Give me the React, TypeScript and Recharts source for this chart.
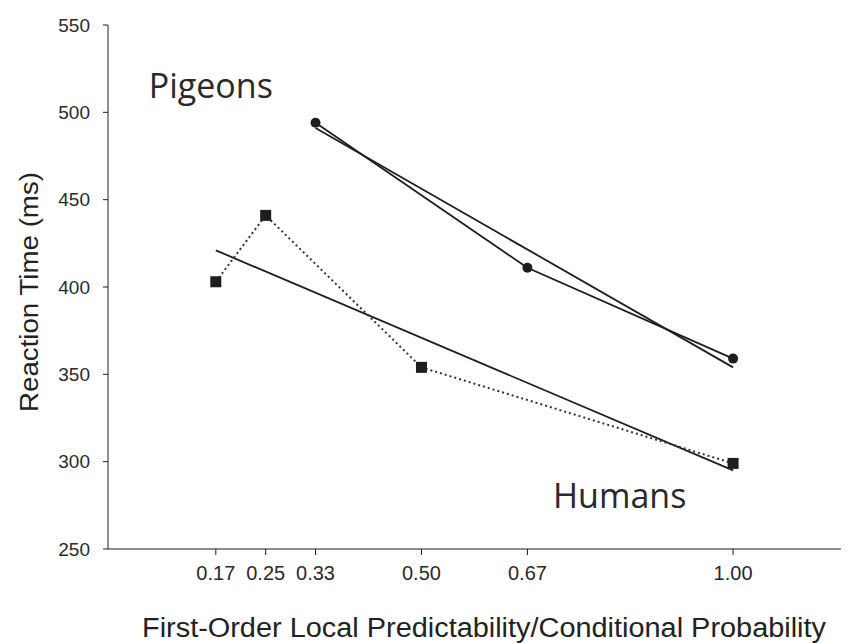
import React from 'react';
import { LineChart, Line, XAxis, YAxis, ReferenceDot } from 'recharts';

const xTicks = [0.17, 0.25, 0.33, 0.5, 0.67, 1.0];
const yTicks = [250, 300, 350, 400, 450, 500, 550];

const pigeonsX = [0.33, 0.67, 1.0];
const pigeonsRT = [494, 411, 359];
const pigeonsFitX = [0.33, 1.0];
const pigeonsFitRT = [491, 354];

const humansX = [0.17, 0.25, 0.5, 1.0];
const humansRT = [403, 441, 354, 299];
const humansFitX = [0.17, 1.0];
const humansFitRT = [421, 295];

const groupLabels = ['Pigeons', 'Humans'];
const groupLabelX = [0.162, 0.818];
const groupLabelY = [515.5, 281];

const xTitle = 'First-Order Local Predictability/Conditional Probability';
const yTitle = 'Reaction Time (ms)';

const toRows = (xs: number[], ys: number[]) => xs.map((x, i) => ({ x, rt: ys[i] }));

const pigeons = toRows(pigeonsX, pigeonsRT);
const pigeonsFit = toRows(pigeonsFitX, pigeonsFitRT);
const humans = toRows(humansX, humansRT);
const humansFit = toRows(humansFitX, humansFitRT);

const INK = '#1e1e1e';
const SANS = "'Liberation Sans', Arial, sans-serif";

const SquareDot = (p: any) => {
  if (p.cx == null || p.cy == null) return null;
  return <rect key={`sq-${p.index}`} x={p.cx - 5.5} y={p.cy - 5.5} width={11} height={11} fill={INK} />;
};

const CircleDot = (p: any) => {
  if (p.cx == null || p.cy == null) return null;
  return <circle key={`c-${p.index}`} cx={p.cx} cy={p.cy} r={5} fill={INK} />;
};

const groupLabel = (text: string) => (props: any) => {
  const vb = props.viewBox || {};
  const cx = vb.cx != null ? vb.cx : vb.x + (vb.width || 0) / 2;
  const cy = vb.cy != null ? vb.cy : vb.y + (vb.height || 0) / 2;
  return (
    <text x={cx} y={cy} textAnchor="middle" dominantBaseline="central" fontFamily="'Open Sans', sans-serif" fontSize={34} fill="#2a2a2a">
      {text}
    </text>
  );
};

export default function App() {
  return (
    <div style={{ fontFamily: SANS }}>
      <LineChart width={841} height={635} margin={{ top: 17, right: 0, bottom: 0, left: 0 }} style={{ fontFamily: SANS }}>
        <XAxis
          dataKey="x"
          type="number"
          domain={[-0.003, 1.186]}
          allowDataOverflow
          ticks={xTicks}
          tickFormatter={(v: number) => v.toFixed(2)}
          height={94}
          tickSize={6}
          tickMargin={11}
          stroke={INK}
          tick={{ fill: '#2a2a2a', fontSize: 20, fontFamily: SANS }}
          label={{
            content: () => (
              <text x={476} y={620} textAnchor="middle" dominantBaseline="central" fontFamily={SANS} fontSize={27} textLength={684} lengthAdjust="spacingAndGlyphs" fill="#222">
                {xTitle}
              </text>
            ),
          }}
        />
        <YAxis
          type="number"
          domain={[250, 550]}
          ticks={yTicks}
          width={100}
          tickSize={5}
          tickMargin={13}
          stroke={INK}
          tick={{ fill: '#2a2a2a', fontSize: 19, fontFamily: SANS }}
          label={{
            content: () => (
              <text x={21} y={284} textAnchor="middle" dominantBaseline="central" transform="rotate(-90 21 284)" fontFamily={SANS} fontSize={26} textLength={240} lengthAdjust="spacingAndGlyphs" fill="#222">
                {yTitle}
              </text>
            ),
          }}
        />
        <Line data={pigeonsFit} dataKey="rt" stroke={INK} strokeWidth={1.8} dot={false} isAnimationActive={false} />
        <Line data={pigeons} dataKey="rt" stroke={INK} strokeWidth={1.8} dot={CircleDot} isAnimationActive={false} />
        <Line data={humansFit} dataKey="rt" stroke={INK} strokeWidth={1.8} dot={false} isAnimationActive={false} />
        <Line data={humans} dataKey="rt" stroke="#333" strokeWidth={2} strokeDasharray="2 3" dot={SquareDot} isAnimationActive={false} />
        {groupLabels.map((t, i) => (
          <ReferenceDot key={t} x={groupLabelX[i]} y={groupLabelY[i]} r={0} stroke="none" fill="none" label={{ content: groupLabel(t) }} />
        ))}
      </LineChart>
    </div>
  );
}
